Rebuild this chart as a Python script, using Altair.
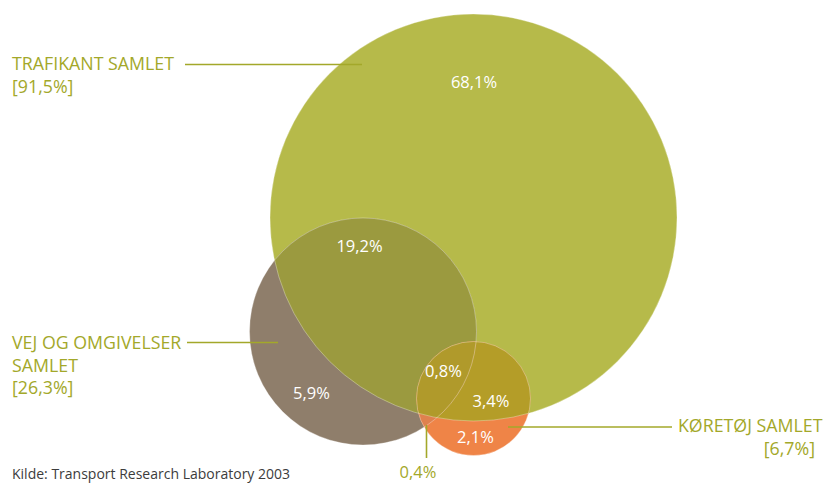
import altair as alt
import numpy as np
import pandas as pd

# ---------------- values ----------------
set_names = ["TRAFIKANT SAMLET", "VEJ OG OMGIVELSER SAMLET", "KØRETØJ SAMLET"]
set_totals = ["[91,5%]", "[26,3%]", "[6,7%]"]
region_names = ["T", "T+V", "V", "T+V+K", "T+K", "K", "V+K"]
region_values = ["68,1%", "19,2%", "5,9%", "0,8%", "3,4%", "2,1%", "0,4%"]
source_text = "Kilde: Transport Research Laboratory 2003"

# ---------------- layout (image pixel coordinates) ----------------
circle_cx = [473.5, 363.0, 473.5]
circle_cy = [217.5, 331.5, 398.5]
circle_r = [203.5, 113.5, 57.0]
disk_colors = ["#b6ba4a", "#8f7e6b", "#ef8447"]

inter_sets = [(0, 1), (0, 2), (1, 2), (0, 1, 2)]
inter_colors = ["#9b9a3f", "#b49d28", "#df814e", "#b09a2b"]

label_color = "#a3a82a"
FONT = "Open Sans"

xs = alt.Scale(domain=[8, 823], nice=False, zero=False)
ys = alt.Scale(domain=[8, 483], nice=False, zero=False, reverse=True)


def X(f="x"):
    return alt.X(f"{f}:Q", scale=xs, axis=None)


def Y(f="y"):
    return alt.Y(f"{f}:Q", scale=ys, axis=None)


layers = []

# full disks (Vega symbol size = area of the bounding square)
disks = pd.DataFrame({
    "set": set_names,
    "x": circle_cx,
    "y": circle_cy,
    "size": [(2 * r) ** 2 for r in circle_r],
    "color": disk_colors,
})


def disk_layer(i):
    return alt.Chart(disks.iloc[[i]]).mark_circle(opacity=1).encode(
        x=X(), y=Y(),
        size=alt.Size("size:Q", scale=None, legend=None),
        color=alt.Color("color:N", scale=None, legend=None),
    )


def lens_df(idx):
    cx = np.array([circle_cx[i] for i in idx])
    cy = np.array([circle_cy[i] for i in idx])
    r = np.array([circle_r[i] for i in idx])
    grid = np.linspace((cx - r).max(), (cx + r).min(), 6000)
    h = np.sqrt(np.clip(r ** 2 - (grid[:, None] - cx) ** 2, 0, None))
    top = (cy - h).max(axis=1)
    bot = (cy + h).min(axis=1)
    ok = bot >= top
    x0, x1 = grid[ok][0], grid[ok][-1]
    t = np.linspace(0, np.pi, 600)
    xx = (x0 + x1) / 2 - (x1 - x0) / 2 * np.cos(t)
    h = np.sqrt(np.clip(r ** 2 - (xx[:, None] - cx) ** 2, 0, None))
    top = (cy - h).max(axis=1)
    bot = np.maximum((cy + h).min(axis=1), top)
    return pd.DataFrame({"x": xx, "y": top, "y2": bot})


def lens_layer(k):
    df = lens_df(inter_sets[k])
    return alt.Chart(df).mark_area(color=inter_colors[k], opacity=1, strokeWidth=0).encode(
        x=X(), y=Y(), y2="y2:Q"
    )


layers += [disk_layer(0), disk_layer(1), lens_layer(0), disk_layer(2),
           lens_layer(1), lens_layer(2), lens_layer(3)]

# thin light outlines
layers.append(alt.Chart(disks).mark_circle(
    fillOpacity=0, stroke="#ffffff", strokeWidth=0.8, strokeOpacity=0.4
).encode(x=X(), y=Y(), size=alt.Size("size:Q", scale=None, legend=None)))

# leader lines
leaders = pd.DataFrame({
    "x": [185, 187, 508, 426.5],
    "x2": [362, 278, 672, 426.5],
    "y": [64.5, 342.5, 427, 425],
    "y2": [64.5, 342.5, 427, 458],
})
layers.append(alt.Chart(leaders).mark_rule(color=label_color, strokeWidth=1.6).encode(
    x=X(), x2="x2:Q", y=Y(), y2="y2:Q"))

# set labels
set_lab = pd.DataFrame({
    "text": ["TRAFIKANT SAMLET", set_totals[0],
             "VEJ OG OMGIVELSER", "SAMLET", set_totals[1],
             set_names[2], set_totals[2]],
    "x": [12, 12, 12, 12, 12, 822.5, 815],
    "y": [70, 92.5, 349, 371.5, 394, 432, 455],
    "align": ["left", "left", "left", "left", "left", "right", "right"],
})
for al in ["left", "right"]:
    sub = set_lab[set_lab["align"] == al]
    layers.append(alt.Chart(sub).mark_text(
        align=al, baseline="alphabetic", font=FONT, fontSize=17.8, color=label_color
    ).encode(x=X(), y=Y(), text="text:N"))

# region labels
reg = pd.DataFrame({
    "region": region_names,
    "text": region_values,
    "x": [474, 359.5, 311.5, 443.5, 491, 475.5, 418],
    "y": [88, 252, 399, 377, 407, 443, 477.5],
    "color": ["#ffffff"] * 6 + [label_color],
})
layers.append(alt.Chart(reg).mark_text(
    align="center", baseline="alphabetic", font=FONT, fontSize=16.5
).encode(x=X(), y=Y(), text="text:N",
         color=alt.Color("color:N", scale=None, legend=None)))

# source
layers.append(alt.Chart(pd.DataFrame({"text": [source_text], "x": [12], "y": [479]})).mark_text(
    align="left", baseline="alphabetic", font=FONT, fontSize=14, color="#3c3c3c"
).encode(x=X(), y=Y(), text="text:N"))

chart = alt.layer(*layers).properties(
    width=815, height=475, padding=0,
    autosize=alt.AutoSizeParams(type="none"),
    background="#ffffff",
).configure_view(stroke=None)

chart.save("out.html", embed_options={"renderer": "svg", "actions": False})
